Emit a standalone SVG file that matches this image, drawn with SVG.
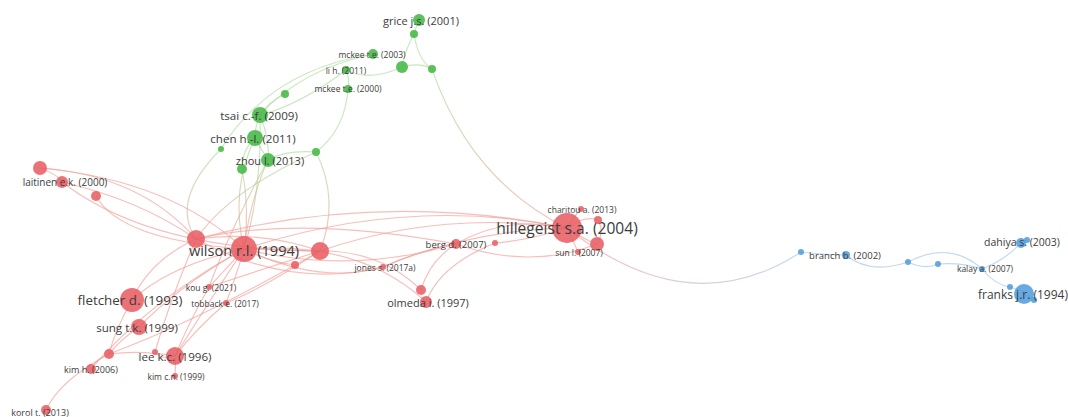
<svg xmlns="http://www.w3.org/2000/svg" width="1068" height="417" viewBox="0 0 1068 417">
  <style>
    .e { fill: none; stroke-width: 1.15; stroke-opacity: 0.65; }
    .er { stroke: #f29b95; }
    .eg { stroke: #a9dc9c; }
    .eb { stroke: #9fc3e6; }
    .nr { fill: #e85a60; fill-opacity: 0.85; }
    .ng { fill: #45b845; fill-opacity: 0.88; }
    .nb { fill: #519edd; fill-opacity: 0.88; }
    text { font-family: "Open Sans", "Noto Sans", sans-serif; fill: #3c3c3c; text-anchor: middle; dominant-baseline: central; }
  </style>
  <defs>
    <linearGradient id="gGR1" gradientUnits="userSpaceOnUse" x1="432" y1="69" x2="567" y2="228">
      <stop offset="0" stop-color="#a9dc9c"/><stop offset="1" stop-color="#f29b95"/>
    </linearGradient>
    <linearGradient id="gGR2" gradientUnits="userSpaceOnUse" x1="0" y1="150" x2="0" y2="250">
      <stop offset="0" stop-color="#a9dc9c"/><stop offset="1" stop-color="#f29b95"/>
    </linearGradient>
    <linearGradient id="gRB" gradientUnits="userSpaceOnUse" x1="567" y1="228" x2="801" y2="252">
      <stop offset="0" stop-color="#f29b95"/><stop offset="1" stop-color="#9fc3e6"/>
    </linearGradient>
  </defs>

  <g id="connectors">
    <!-- red cluster -->
    <path class="e er" d="M40,168 Q60,176 62,182"/>
    <path class="e er" d="M40,168 Q140,175 196,239"/>
    <path class="e er" d="M40,168 Q170,180 244,249"/>
    <path class="e er" d="M62,182 Q140,200 196,239"/>
    <path class="e er" d="M62,182 Q150,250 320,251"/>
    <path class="e er" d="M96,196 Q120,240 244,249"/>
    <path class="e er" d="M196,239 Q380,190 567,228"/>
    <path class="e er" d="M244,249 Q410,195 567,228"/>
    <path class="e er" d="M196,239 Q300,215 456,244"/>
    <path class="e er" d="M244,249 Q350,275 456,244"/>
    <path class="e er" d="M196,239 Q290,290 383,267"/>
    <path class="e er" d="M244,249 Q320,285 383,267"/>
    <path class="e er" d="M244,249 Q280,250 320,251"/>
    <path class="e er" d="M244,249 Q270,262 295,265"/>
    <path class="e er" d="M196,239 Q260,230 320,251"/>
    <path class="e er" d="M320,251 Q380,250 421,290"/>
    <path class="e er" d="M244,249 Q360,240 426,302"/>
    <path class="e er" d="M320,251 Q440,210 567,228"/>
    <path class="e er" d="M383,267 Q420,250 456,244"/>
    <path class="e er" d="M383,267 Q470,230 567,228"/>
    <path class="e er" d="M421,290 Q430,260 456,244"/>
    <path class="e er" d="M426,302 Q440,265 495,243"/>
    <path class="e er" d="M456,244 Q505,215 567,228"/>
    <path class="e er" d="M456,244 Q530,270 597,244"/>
    <path class="e er" d="M495,243 Q530,240 567,228"/>
    <path class="e er" d="M567,228 Q575,215 581,209"/>
    <path class="e er" d="M567,228 Q585,215 598,220"/>
    <path class="e er" d="M567,228 Q585,240 597,244"/>
    <path class="e er" d="M567,228 Q575,245 578,252"/>
    <path class="e er" d="M598,220 Q605,232 597,244"/>
    <path class="e er" d="M244,249 Q170,265 132,300"/>
    <path class="e er" d="M196,239 Q150,260 132,300"/>
    <path class="e er" d="M244,249 Q180,285 139,327"/>
    <path class="e er" d="M196,239 Q170,300 155,352"/>
    <path class="e er" d="M244,249 Q210,300 175,356"/>
    <path class="e er" d="M244,249 Q225,270 209,287"/>
    <path class="e er" d="M244,249 Q235,280 226,303"/>
    <path class="e er" d="M320,251 Q260,270 209,287"/>
    <path class="e er" d="M320,251 Q260,290 226,303"/>
    <path class="e er" d="M209,287 Q190,320 175,356"/>
    <path class="e er" d="M226,303 Q195,330 175,356"/>
    <path class="e er" d="M132,300 Q115,330 109,354"/>
    <path class="e er" d="M139,327 Q120,340 109,354"/>
    <path class="e er" d="M109,354 Q140,350 175,356"/>
    <path class="e er" d="M109,354 Q200,320 320,251"/>
    <path class="e er" d="M109,354 Q95,360 91,369"/>
    <path class="e er" d="M109,354 Q60,380 46,410"/>
    <path class="e er" d="M155,352 Q160,360 175,356"/>
    <path class="e er" d="M175,356 Q176,366 175,376"/>
    <path class="e er" d="M91,369 Q150,300 244,249"/>
    <!-- green cluster -->
    <path class="e eg" d="M419,20 Q416,27 414,34"/>
    <path class="e eg" d="M414,34 Q405,50 402,67"/>
    <path class="e eg" d="M414,34 Q418,60 432,69"/>
    <path class="e eg" d="M402,67 Q420,62 432,69"/>
    <path class="e eg" d="M402,67 Q370,82 346,70"/>
    <path class="e eg" d="M373,54 Q300,70 260,115"/>
    <path class="e eg" d="M373,54 Q270,70 221,149"/>
    <path class="e eg" d="M346,70 Q300,105 260,115"/>
    <path class="e eg" d="M346,70 Q350,80 348,89"/>
    <path class="e eg" d="M348,89 Q345,130 316,152"/>
    <path class="e eg" d="M316,152 Q285,150 268,160"/>
    <path class="e eg" d="M285,94 Q268,102 260,115"/>
    <path class="e eg" d="M260,115 Q255,126 255,138"/>
    <path class="e eg" d="M255,138 Q262,150 268,160"/>
    <path class="e eg" d="M260,115 Q270,140 268,160"/>
    <path class="e eg" d="M255,138 Q242,150 242,169"/>
    <!-- green to red -->
    <path class="e" stroke="url(#gGR1)" d="M432,69 Q470,180 567,228"/>
    <path class="e" stroke="url(#gGR2)" d="M316,152 Q340,200 320,251"/>
    <path class="e" stroke="url(#gGR2)" d="M221,149 Q170,200 196,239"/>
    <path class="e" stroke="url(#gGR2)" d="M242,169 Q250,210 244,249"/>
    <path class="e" stroke="url(#gGR2)" d="M268,160 Q250,200 244,249"/>
    <path class="e" stroke="url(#gGR2)" d="M255,138 Q230,190 244,249"/>
    <path class="e" stroke="url(#gGR2)" d="M260,115 Q262,190 244,249"/>
    <path class="e" stroke="url(#gGR2)" d="M268,160 Q230,230 209,287"/>
    <path class="e" stroke="url(#gGR2)" d="M316,152 Q230,190 196,239"/>
    <!-- red to blue -->
    <path class="e" stroke="url(#gRB)" d="M567,228 Q690,325 801,252"/>
    <!-- blue cluster -->
    <path class="e eb" d="M801,252 Q825,255 846,255"/>
    <path class="e eb" d="M846,255 Q870,275 908,262"/>
    <path class="e eb" d="M908,262 Q925,270 938,264"/>
    <path class="e eb" d="M938,264 Q960,262 982,269"/>
    <path class="e eb" d="M908,262 Q950,240 982,269"/>
    <path class="e eb" d="M982,269 Q1005,260 1021,243"/>
    <path class="e eb" d="M982,269 Q995,285 1010,287"/>
    <path class="e eb" d="M1010,287 Q1020,290 1024,294"/>
    <path class="e eb" d="M1021,243 Q1025,241 1027,240"/>
    <path class="e eb" d="M1024,294 Q1030,298 1034,300"/>
  </g>

  <!-- red cluster nodes -->
  <g id="n-anon-r1"><circle class="nr" cx="40" cy="168" r="7"/></g>
  <g id="n-laitinen"><circle class="nr" cx="62" cy="182" r="6"/><text x="65" y="182" font-size="10">laitinen e.k. (2000)</text></g>
  <g id="n-anon-r2"><circle class="nr" cx="96" cy="196" r="5"/></g>
  <g id="n-anon-r3"><circle class="nr" cx="196" cy="239" r="9"/></g>
  <g id="n-wilson"><circle class="nr" cx="244" cy="249" r="13"/><text x="244" y="250" font-size="14.6">wilson r.l. (1994)</text></g>
  <g id="n-anon-r4"><circle class="nr" cx="320" cy="251" r="9"/></g>
  <g id="n-anon-r5"><circle class="nr" cx="295" cy="265" r="4"/></g>
  <g id="n-fletcher"><circle class="nr" cx="132" cy="300" r="12"/><text x="130" y="300" font-size="13.4">fletcher d. (1993)</text></g>
  <g id="n-kou"><circle class="nr" cx="209" cy="287" r="3"/><text x="211" y="287" font-size="8.5">kou g. (2021)</text></g>
  <g id="n-tobback"><circle class="nr" cx="226" cy="303" r="3"/><text x="225" y="303" font-size="8.5">tobback e. (2017)</text></g>
  <g id="n-sung"><circle class="nr" cx="139" cy="327" r="8"/><text x="137" y="327" font-size="11.6">sung t.k. (1999)</text></g>
  <g id="n-anon-r6"><circle class="nr" cx="109" cy="354" r="5"/></g>
  <g id="n-anon-r7"><circle class="nr" cx="155" cy="352" r="3"/></g>
  <g id="n-lee"><circle class="nr" cx="175" cy="356" r="9"/><text x="175" y="356" font-size="11.6">lee k.c. (1996)</text></g>
  <g id="n-kimh"><circle class="nr" cx="91" cy="369" r="5"/><text x="91" y="369" font-size="9">kim h. (2006)</text></g>
  <g id="n-kimcn"><circle class="nr" cx="175" cy="376" r="3"/><text x="176" y="376" font-size="8.5">kim c.n. (1999)</text></g>
  <g id="n-korol"><circle class="nr" cx="46" cy="410" r="5"/><text x="40" y="412" font-size="9">korol t. (2013)</text></g>
  <g id="n-jones"><circle class="nr" cx="383" cy="267" r="3"/><text x="385" y="267" font-size="8.5">jones s. (2017a)</text></g>
  <g id="n-anon-r8"><circle class="nr" cx="421" cy="290" r="5"/></g>
  <g id="n-olmeda"><circle class="nr" cx="426" cy="302" r="6"/><text x="428" y="302" font-size="11">olmeda i. (1997)</text></g>
  <g id="n-berg"><circle class="nr" cx="456" cy="244" r="5"/><text x="456" y="244" font-size="9.5">berg d. (2007)</text></g>
  <g id="n-anon-r9"><circle class="nr" cx="495" cy="243" r="3"/></g>
  <g id="n-hillegeist"><circle class="nr" cx="567" cy="228" r="15"/><text x="567" y="228" font-size="15.6">hillegeist s.a. (2004)</text></g>
  <g id="n-charitou"><circle class="nr" cx="581" cy="209" r="3"/><text x="582" y="209" font-size="8.5">charitou a. (2013)</text></g>
  <g id="n-anon-r10"><circle class="nr" cx="598" cy="220" r="4"/></g>
  <g id="n-anon-r11"><circle class="nr" cx="597" cy="244" r="7"/></g>
  <g id="n-sun"><circle class="nr" cx="578" cy="252" r="3"/><text x="579" y="252" font-size="8.5">sun l. (2007)</text></g>

  <!-- green cluster nodes -->
  <g id="n-grice"><circle class="ng" cx="419" cy="20" r="6"/><text x="421" y="20" font-size="11">grice j.s. (2001)</text></g>
  <g id="n-anon-g1"><circle class="ng" cx="414" cy="34" r="4"/></g>
  <g id="n-mckee2003"><circle class="ng" cx="373" cy="54" r="5"/><text x="372" y="54" font-size="8.5">mckee t.e. (2003)</text></g>
  <g id="n-anon-g2"><circle class="ng" cx="402" cy="67" r="6"/></g>
  <g id="n-anon-g3"><circle class="ng" cx="432" cy="69" r="4"/></g>
  <g id="n-lih"><circle class="ng" cx="346" cy="70" r="4"/><text x="346" y="70" font-size="8.5">li h. (2011)</text></g>
  <g id="n-mckee2000"><circle class="ng" cx="348" cy="89" r="4"/><text x="348" y="88" font-size="8.5">mckee t.e. (2000)</text></g>
  <g id="n-anon-g4"><circle class="ng" cx="285" cy="94" r="4"/></g>
  <g id="n-tsai"><circle class="ng" cx="260" cy="115" r="8"/><text x="259" y="115" font-size="11.6">tsai c.-f. (2009)</text></g>
  <g id="n-chen"><circle class="ng" cx="255" cy="138" r="8"/><text x="253" y="138" font-size="11.6">chen h.-l. (2011)</text></g>
  <g id="n-anon-g5"><circle class="ng" cx="221" cy="149" r="3"/></g>
  <g id="n-anon-g6"><circle class="ng" cx="242" cy="169" r="5"/></g>
  <g id="n-zhou"><circle class="ng" cx="268" cy="160" r="7"/><text x="270" y="160" font-size="11">zhou l. (2013)</text></g>
  <g id="n-anon-g7"><circle class="ng" cx="316" cy="152" r="4"/></g>

  <!-- blue cluster nodes -->
  <g id="n-anon-b1"><circle class="nb" cx="801" cy="252" r="3"/></g>
  <g id="n-branch"><circle class="nb" cx="846" cy="255" r="4"/><text x="845" y="255" font-size="9.5">branch b. (2002)</text></g>
  <g id="n-anon-b2"><circle class="nb" cx="908" cy="262" r="3"/></g>
  <g id="n-anon-b3"><circle class="nb" cx="938" cy="264" r="3"/></g>
  <g id="n-kalay"><circle class="nb" cx="982" cy="269" r="3"/><text x="985" y="268" font-size="8.5">kalay a. (2007)</text></g>
  <g id="n-dahiya"><circle class="nb" cx="1021" cy="243" r="5"/><circle class="nb" cx="1027" cy="240" r="3"/><text x="1022" y="242" font-size="10.5">dahiya s. (2003)</text></g>
  <g id="n-anon-b4"><circle class="nb" cx="1010" cy="287" r="3"/></g>
  <g id="n-franks"><circle class="nb" cx="1024" cy="294" r="10"/><circle class="nb" cx="1034" cy="300" r="3"/><text x="1023" y="294" font-size="12">franks j.r. (1994)</text></g>
</svg>
